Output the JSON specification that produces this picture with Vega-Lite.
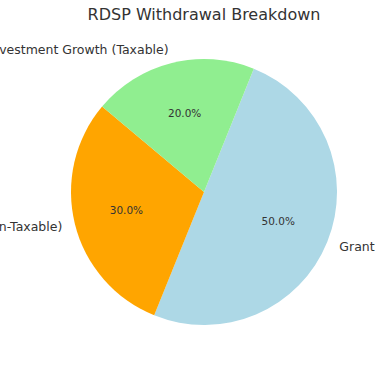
{
  "$schema": "https://vega.github.io/schema/vega-lite/v6.json",
  "autosize": {"type": "none"},
  "width": 408,
  "height": 304,
  "padding": {"top": 40, "left": 0, "right": 0, "bottom": 0},
  "background": "white",
  "config": {"view": {"stroke": null}, "font": "DejaVu Sans"},
  "title": {"text": "RDSP Withdrawal Breakdown", "fontSize": 16, "font": "DejaVu Sans", "fontWeight": "normal", "color": "#333333", "anchor": "middle", "offset": 17},
  "data": {"values": [
    {"label": "Grants", "share": 0.5},
    {"label": "Contributions (Non-Taxable)", "share": 0.3},
    {"label": "Investment Growth (Taxable)", "share": 0.2}
  ]},
  "layer": [
    {
      "mark": {"type": "arc", "radius": 133},
      "encoding": {
        "theta": {"field": "share", "type": "quantitative", "stack": true, "scale": {"range": [0.384, 6.667]}},
        "order": {"field": "share", "sort": "descending"},
        "color": {"field": "label", "type": "nominal", "legend": null,
          "scale": {"domain": ["Grants", "Contributions (Non-Taxable)", "Investment Growth (Taxable)"], "range": ["#ADD8E6", "#FFA500", "#90EE90"]}}
      }
    },
    {
      "mark": {"type": "text", "radius": 146, "fontSize": 12.5, "font": "DejaVu Sans", "color": "#333333", "baseline": "middle",
        "align": {"expr": "datum.label == 'Grants' ? 'left' : 'right'"}},
      "encoding": {
        "theta": {"field": "share", "type": "quantitative", "stack": true},
        "order": {"field": "share", "sort": "descending"},
        "text": {"field": "label"}
      }
    },
    {
      "mark": {"type": "text", "radius": 80, "fontSize": 10.5, "font": "DejaVu Sans", "color": "#333333", "baseline": "middle", "align": "center"},
      "encoding": {
        "theta": {"field": "share", "type": "quantitative", "stack": true},
        "order": {"field": "share", "sort": "descending"},
        "text": {"field": "share", "type": "quantitative", "format": ".1%"}
      }
    }
  ]
}
